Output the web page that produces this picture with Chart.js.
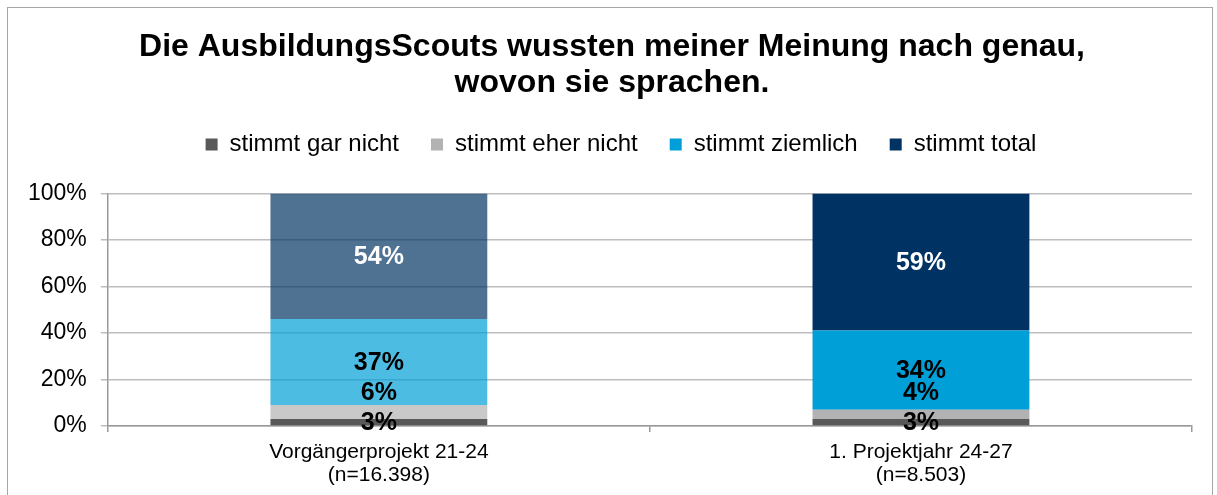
<!DOCTYPE html>
<html>
<head>
<meta charset="utf-8">
<script src="https://cdn.jsdelivr.net/npm/chart.js@4.4.1/dist/chart.umd.min.js"></script>
<style>
  body { margin: 0; background: #fff; }
  #frame { position: absolute; left: 7px; top: 7px; width: 1204px; height: 500px;
           border: 1px solid #a6a6a6; border-bottom: none; }
  #wrap { position: absolute; left: 0; top: 0; width: 1217px; height: 495px; }
</style>
</head>
<body>
<div id="frame"></div>
<div id="wrap"><canvas id="myChart" width="1217" height="495"></canvas></div>
<script>
// categories (each label is two lines)
var categories = [['Vorgängerprojekt 21-24', '(n=16.398)'], ['1. Projektjahr 24-27', '(n=8.503)']]
var seriesNames = ['stimmt gar nicht', 'stimmt eher nicht', 'stimmt ziemlich', 'stimmt total']

// percentages per category
var garNicht = [3, 3]
var eherNicht = [6, 4]
var ziemlich = [37, 34]
var total = [54, 59]

var yTicks = [0, 20, 40, 60, 80, 100]

// full colour for the current year, faded for the previous project
var colGarNicht = ['#595959', '#595959']
var colEherNicht = ['rgba(178,178,178,0.7)', '#b2b2b2']
var colZiemlich = ['rgba(0,159,215,0.7)', '#009fd7']
var colTotal = ['rgba(0,51,99,0.69)', '#003363']

var FONT = '"Liberation Sans", Arial, sans-serif'

// extra room between legend and plot, and nudge title/legend to the right
var layoutTweaks = {
  id: 'layoutTweaks',
  beforeInit: function (chart) {
    var fit = chart.legend.fit
    chart.legend.fit = function () {
      fit.bind(chart.legend)()
      this.height += 27
    }
  },
  afterLayout: function (chart) {
    chart.legend.left += 18
    chart.legend.right += 18
    chart.titleBlock.left += 9
    chart.titleBlock.right += 9
  }
}

var labelPlugin = {
  id: 'segmentLabels',
  afterDatasetsDraw: function (chart) {
    var ctx = chart.ctx
    ctx.save()
    ctx.font = 'bold 25px ' + FONT
    ctx.textAlign = 'center'
    ctx.textBaseline = 'middle'
    for (var i = 0; i < chart.data.labels.length; i++) {
      var prevY = null
      for (var d = 0; d < chart.data.datasets.length; d++) {
        var ds = chart.data.datasets[d]
        var bar = chart.getDatasetMeta(d).data[i]
        var y = (bar.y + bar.base) / 2
        // small segments get pushed up so they don't sit on the one below
        if (prevY !== null && ds.data[i] < 10) {
          y = Math.min(y, prevY - 30)
        }
        ctx.fillStyle = d == 3 ? '#ffffff' : '#000000'
        ctx.fillText(ds.data[i] + '%', bar.x, y + 1)
        prevY = y
      }
    }
    ctx.restore()
  }
}

var ctx = document.getElementById('myChart').getContext('2d')
var chart = new Chart(ctx, {
  type: 'bar',
  data: {
    labels: categories,
    datasets: [
      { label: seriesNames[0], data: garNicht, backgroundColor: colGarNicht },
      { label: seriesNames[1], data: eherNicht, backgroundColor: colEherNicht },
      { label: seriesNames[2], data: ziemlich, backgroundColor: colZiemlich },
      { label: seriesNames[3], data: total, backgroundColor: colTotal }
    ]
  },
  plugins: [labelPlugin, layoutTweaks],
  options: {
    responsive: false,
    animation: false,
    devicePixelRatio: 1,
    barPercentage: 0.4,
    categoryPercentage: 1,
    layout: { padding: { left: 14, right: 25, top: 0, bottom: 0 } },
    plugins: {
      tooltip: { enabled: false },
      title: {
        display: true,
        text: ['Die AusbildungsScouts wussten meiner Meinung nach genau,', 'wovon sie sprachen.'],
        color: '#000',
        font: { family: FONT, size: 32, weight: 'bold', lineHeight: 1.1 },
        padding: { top: 30, bottom: 0 }
      },
      legend: {
        position: 'top',
        labels: {
          generateLabels: function (chart) {
            return chart.data.datasets.map(function (ds, i) {
              return { text: ds.label, fillStyle: ds.backgroundColor[1], strokeStyle: ds.backgroundColor[1], lineWidth: 0, datasetIndex: i }
            })
          },
          boxWidth: 12,
          boxHeight: 12,
          padding: 32,
          color: '#000',
          font: { family: FONT, size: 24 }
        }
      }
    },
    scales: {
      x: {
        stacked: true,
        grid: { drawOnChartArea: false, drawTicks: true, tickLength: 6, color: '#999999', lineWidth: 1.5 },
        border: { color: '#999999', width: 1.5 },
        ticks: {
          color: '#000',
          padding: 8,
          font: { family: FONT, size: 21, lineHeight: 1.12 }
        }
      },
      y: {
        stacked: true,
        min: 0,
        max: 100,
        afterBuildTicks: function (axis) {
          axis.ticks = yTicks.map(function (v) { return { value: v } })
        },
        grid: { color: '#bdbdbd', lineWidth: 1.5, tickLength: 7 },
        border: { color: '#999999', width: 1.5 },
        ticks: {
          color: '#000',
          padding: 14,
          font: { family: FONT, size: 23 },
          callback: function (v) { return v + '%' }
        }
      }
    }
  }
})
</script>
</body>
</html>
